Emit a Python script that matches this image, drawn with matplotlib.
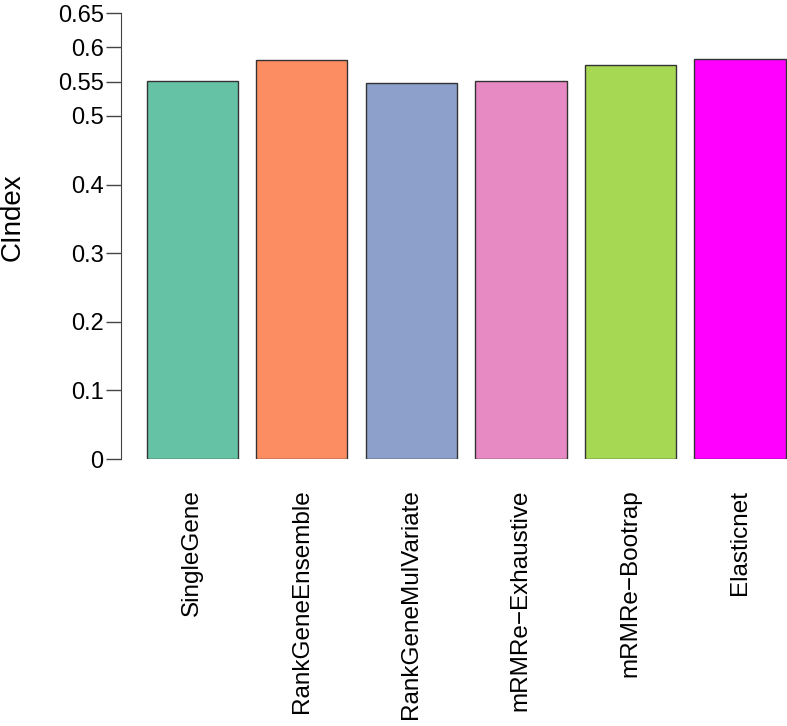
import matplotlib.pyplot as plt

methods = ['SingleGene', 'RankGeneEnsemble', 'RankGeneMulVariate',
           'mRMRe\u2212Exhaustive', 'mRMRe\u2212Bootrap', 'Elasticnet']
cindex = [0.551, 0.582, 0.548, 0.551, 0.574, 0.583]
colors = ['#66C2A5', '#FC8D62', '#8DA0CB', '#E78AC3', '#A6D854', '#FF00FF']
yticks = [0, 0.1, 0.2, 0.3, 0.4, 0.5, 0.55, 0.6, 0.65]
ytick_labels = ['0', '0.1', '0.2', '0.3', '0.4', '0.5', '0.55', '0.6', '0.65']

plt.rcParams['font.family'] = ['Liberation Sans', 'DejaVu Sans']

W, H = 787, 726
fig = plt.figure(figsize=(W / 100, H / 100), dpi=100)

# R barplot layout: bar width 1, space 0.2
x_left, x_right = 121, 787
y_bottom, y_top = 459, 13
ax = fig.add_axes([x_left / W, 1 - y_bottom / H,
                   (x_right - x_left) / W, (y_bottom - y_top) / H])

centers = [0.7 + 1.2 * i for i in range(len(methods))]
ax.bar(centers, cindex, width=1.0, color=colors, edgecolor='#333333', linewidth=1.0)

px_per_unit = 91.3
ax.set_xlim(-0.08, -0.08 + (x_right - x_left) / px_per_unit)
ax.set_ylim(0, 0.65)

for side in ['top', 'right', 'bottom']:
    ax.spines[side].set_visible(False)
ax.spines['left'].set_bounds(0, 0.65)
ax.spines['left'].set_color('#444444')

ax.set_yticks(yticks)
ax.set_yticklabels(ytick_labels, fontsize=17)
ax.tick_params(axis='y', length=11, width=1, color='#444444', pad=1.5)

ax.set_xticks(centers)
ax.set_xticklabels(methods, rotation=90, fontsize=17.5)
ax.tick_params(axis='x', length=0, pad=22)

fig.text(13 / W, 1 - 217 / H, 'CIndex', rotation=90, fontsize=20,
         ha='center', va='center')

fig.savefig('out.png', dpi=100)
